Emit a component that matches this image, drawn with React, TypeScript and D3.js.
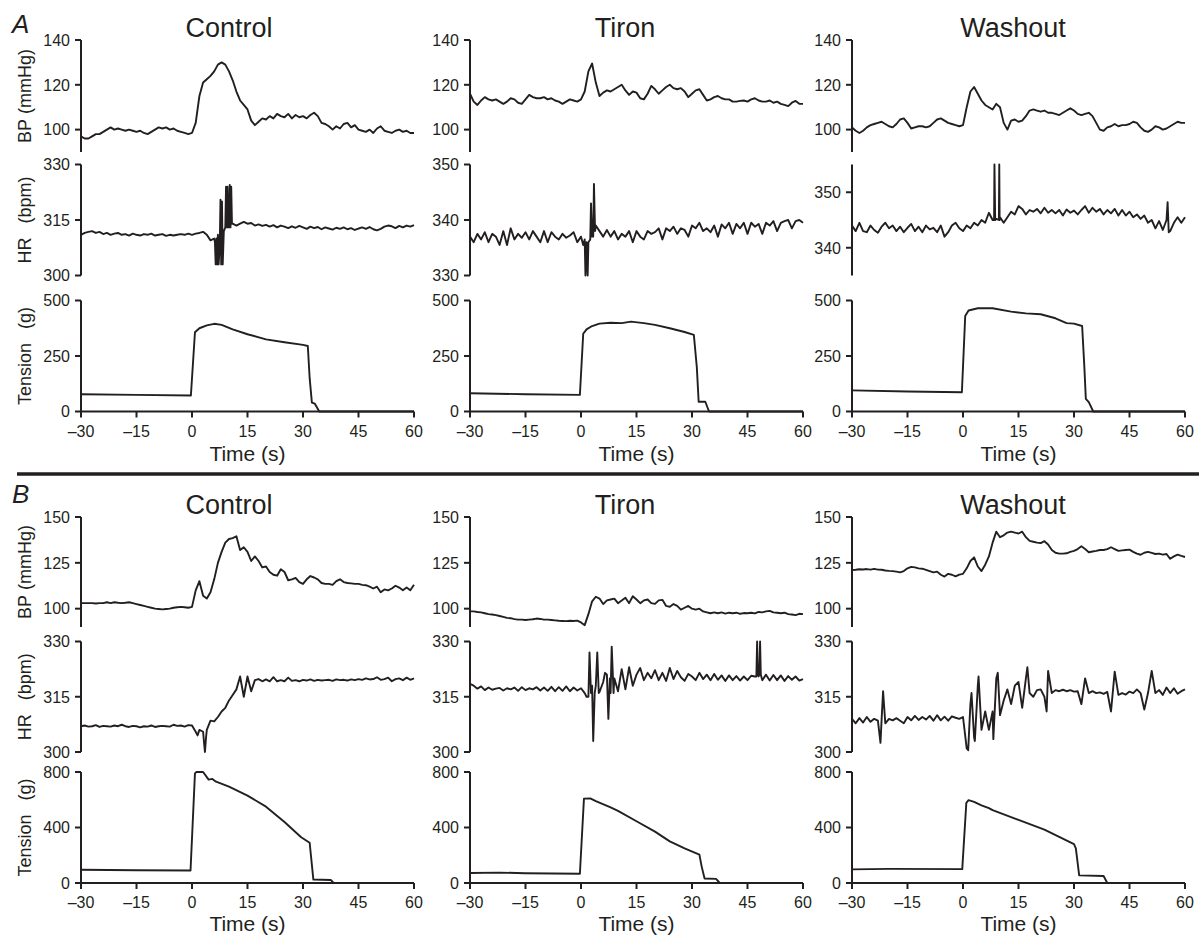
import React from "react";
import * as d3 from "d3";

// ---- shared ticks / labels ----
const CONDITIONS = ["Control", "Tiron", "Washout"];
const TIME_TICKS = [-30, -15, 0, 15, 30, 45, 60];

// ---- A: blood pressure (mmHg), one reading per second from -30 to 60 s ----
const aControlBP = [
  97, 96, 96, 97, 98, 98, 99, 100, 101, 100,
  100.5, 100, 99.5, 100, 99.5, 99, 99.5, 98.5, 98, 99,
  100, 101, 100.5, 101, 100, 100.5, 99.5, 99, 98.5, 98,
  98.5, 103, 115, 121, 122.5, 124, 126, 129, 130, 129,
  126, 122, 117, 113, 111, 109, 104, 102, 103.5, 105,
  104.5, 106, 105, 107, 106, 105.5, 107, 105, 106.5, 105.5,
  106, 105, 106.5, 107.5, 106, 103, 102.5, 101.5, 100, 101.5,
  100.5, 102.5, 103, 101, 102, 100, 99.5, 99, 100, 98.5,
  100.5, 101.5, 99.5, 99, 98.5, 99.5, 100, 99, 99.5, 98.5,
  98.5,
];
const aTironBP = [
  116, 112.5, 111, 113, 114.5, 113.5, 113, 113.5, 112.5, 111.5,
  112.5, 114, 113.5, 112, 111.5, 113.5, 115.5, 114.5, 114, 114,
  114.5, 113.5, 114, 113, 112.5, 111.5, 112.5, 113.5, 113, 112.5,
  113.5, 117, 126, 129.5, 121, 115, 116.5, 117.5, 117, 118,
  119, 120, 117.5, 115.5, 117, 116.5, 114, 113.5, 116, 119.5,
  118, 116, 117.5, 119, 120, 118.5, 118, 118.5, 117, 114.5,
  116, 117.5, 118, 115.5, 113, 113.5, 114.5, 115, 114, 113.5,
  113.5, 112.5, 112.5, 112.8, 113, 112.5, 113.5, 114, 113, 112.5,
  112.5, 113, 112, 112.5, 111.5, 111, 110.5, 112, 112.8, 111.5,
  111.5,
];
const aWashoutBP = [
  101, 99.5, 98.5, 99.5, 101, 102, 102.5, 103, 103.5, 102.5,
  101.5, 101, 102.5, 104.5, 105, 103, 100.5, 101, 101.5, 101.5,
  101, 101.5, 103, 104.5, 105, 104, 103, 102.5, 102, 101.5,
  102, 110, 117, 119, 116, 113, 111, 110, 109, 111.5,
  110, 103, 100, 104, 104.5, 103.5, 104, 106, 108.5, 109,
  108.5, 108, 108.5, 107.5, 107.5, 107, 106.5, 107.5, 108.5, 109.5,
  108.5, 107, 106.5, 107, 107.5, 106, 103, 100, 99.5, 101,
  101.5, 102.5, 101.5, 102, 102, 102.5, 103.5, 103, 101, 99.5,
  99, 100, 101.5, 101, 100, 100.5, 101.5, 102.5, 103.5, 103,
  103,
];

// ---- A: heart rate (bpm), per second, plus extra readings around the spikes ----
const aControlHR = [
  311, 311.5, 311.8, 312, 311.5, 311.8, 311.2, 311.5, 311, 311.3,
  311.5, 311, 311.2, 310.8, 311.3, 311, 310.8, 311.2, 311, 311.3,
  310.8, 311, 311.2, 310.7, 311, 310.8, 311, 311.2, 311, 311.3,
  311, 311.3, 311.5, 311.8, 311, 309.5, 310, 311, 312, 313,
  313, 314, 313.5, 314, 314.5, 314, 314.2, 313.5, 313.8, 313.4,
  313.7, 313.2, 313.6, 313, 313.5, 313.2, 312.8, 313.3, 312.9, 313.4,
  313, 312.6, 313.2, 312.8, 313.1, 312.5, 313, 312.7, 312.4, 312.9,
  312.6, 313, 312.5, 312.8, 312.3, 312.7, 313, 312.6, 313.1, 312.5,
  312.2, 312.6, 313.2, 313.5, 313.3, 312.8, 313.4, 313, 313.5, 313.2,
  313.6,
];
const aControlHRSpikes = [
  [6.2, 309], [6.4, 303], [6.6, 310], [6.8, 303], [7.2, 303], [7.5, 308], [7.7, 320.5],
  [7.9, 303], [8.1, 320], [8.3, 303], [8.6, 312], [9.2, 324], [9.4, 313], [9.6, 324],
  [9.8, 313], [10.2, 324.5], [10.4, 313], [10.6, 324], [10.8, 314],
];
const aTironHR = [
  337, 336, 337.5, 336.5, 337.8, 336, 337.5, 337, 335.5, 338,
  335.5, 338.5, 336.5, 337.5, 336.8, 337.8, 336.5, 338, 337, 336,
  338, 336, 337.8, 337, 336.5, 337.5, 336.8, 337.2, 337.8, 336,
  337, 336.5, 336, 337, 339, 338, 337, 338.2, 337, 338,
  336.5, 337.5, 337, 338, 336, 338, 337, 336.5, 338, 337.5,
  337.8, 338.5, 336.5, 338.5, 338, 338.8, 337.5, 338.5, 338.2, 337,
  339, 338.5, 339.5, 338, 338.5, 337.8, 339, 337, 339.2, 338.5,
  339.5, 337.5, 339.3, 338.5, 339.5, 337.5, 339.5, 338.8, 339.3, 337.5,
  339.5, 339, 339.8, 338, 339.5, 339.8, 340, 338.5, 339.8, 340,
  339.5,
];
const aTironHRSpikes = [
  [0.6, 335.5], [1.2, 330], [1.5, 336], [1.8, 330], [2.5, 336.5], [2.7, 343],
  [3.3, 337], [3.5, 346.5], [3.8, 338],
];
const aWashoutHR = [
  344, 343, 344.5, 343, 342.8, 344, 343.2, 342.7, 343.8, 344.5,
  343.5, 344, 343, 343.8, 342.8, 343.6, 344.3, 343, 343.8, 342.8,
  344, 343.3, 343.6, 342.8, 344, 342, 342.8, 344, 344.5, 343.5,
  343, 344, 343.5, 344.5, 344, 345, 344.5, 346.3, 345, 345.2,
  345.5, 344.5, 345.5, 346.5, 346, 347.5, 347, 346, 346.8, 346.5,
  347, 346.2, 347.2, 346.3, 346.8, 346.2, 346.8, 345.8, 346.9, 346.3,
  346.7, 346, 346.8, 347.5, 346.3, 347.2, 346.5, 347, 346, 346.8,
  346.2, 347, 345.8, 346.8, 345.8, 346.5, 345.5, 346, 345.2, 345.8,
  344.5, 345, 343.5, 344.8, 343.2, 345, 343, 344.5, 345.5, 344.5,
  345.5,
];
const aWashoutHRSpikes = [
  [8.4, 345], [8.5, 355], [8.7, 345], [9.7, 345], [9.8, 355], [9.9, 345],
  [55.3, 348.2], [55.6, 342.8],
];

// ---- A: tension (g), [time, value] ----
const aControlTension = [
  [-30, 78], [-15, 75], [-0.3, 72], [0.8, 357], [2, 375], [4, 388], [6, 395], [8, 390],
  [11, 370], [15, 348], [20, 325], [25, 312], [30, 300], [31.3, 295], [31.8, 150],
  [32.4, 40], [33.2, 35], [34.4, 0], [60, 0],
];
const aTironTension = [
  [-30, 82], [-15, 78], [-0.3, 75], [0.6, 350], [1.5, 370], [3, 385], [5, 396], [8, 400],
  [11, 398], [13.5, 405], [17, 398], [20, 390], [24, 375], [28, 358], [30.5, 345],
  [31.3, 200], [31.8, 44], [33.6, 44], [34.6, 0], [60, 0],
];
const aWashoutTension = [
  [-30, 95], [-15, 90], [-0.3, 87], [0.6, 430], [1.5, 455], [4, 465], [8, 465], [13, 450],
  [17, 442], [21, 438], [25, 420], [28, 398], [30, 396], [32.2, 385], [32.8, 200],
  [33.2, 57], [34, 42], [35.2, 0], [60, 0],
];

// ---- B: blood pressure (mmHg) ----
const bControlBP = [
  103, 103, 103, 103, 102.8, 103, 103, 103.5, 103, 103.5,
  103.2, 103, 103.2, 103.5, 103, 102.5, 102, 101.5, 101, 100.5,
  100, 99.8, 99.6, 99.8, 100, 100.5, 100.8, 101, 100.8, 100.5,
  101, 110, 115, 107, 105.5, 109, 116, 125, 131, 136,
  138, 138.5, 139.5, 132, 133.5, 131, 126, 128.5, 126, 122.5,
  123, 120, 118.5, 118, 121.5, 120, 115.5, 116, 116.8, 114.5,
  113.5, 116, 117.8, 117, 116, 114, 113.5, 113.5, 113, 115,
  116, 114.5, 114, 113.8, 113.5, 113.5, 113, 112.8, 112, 111,
  112, 109, 110.5, 110, 111, 112.5, 111.5, 110, 111.5, 110,
  113,
];
const bTironBP = [
  98.5, 98.5, 98.2, 98, 97.5, 97, 96.8, 96.5, 96, 95.5,
  95, 94.8, 94.3, 94, 94, 93.8, 94, 94.2, 94.6, 94.4,
  94, 94, 93.8, 93.6, 93.4, 93.3, 93.2, 93.4, 93.3, 93.5,
  92.5, 91, 97, 104, 106.5, 105.5, 102.5, 104.5, 105, 105.5,
  103, 104.5, 106, 103, 106.8, 105, 103, 104.5, 105, 103,
  102.6, 104.5, 104.8, 101.5, 101, 102.5, 101.5, 99.5, 100.5, 101.5,
  100, 99.5, 100, 98.5, 98, 97.5, 98, 97.5, 98, 97.3,
  97.8, 97.5, 97.8, 97.2, 97.6, 97.5, 97.8, 97.4, 98.2, 98,
  98.5, 98.8, 98, 97.8, 97.5, 97.8, 97, 96.8, 96.5, 97.2,
  97,
];
const bWashoutBP = [
  121, 121.2, 121.5, 121.4, 121.6, 121.3, 121.7, 121.3, 121.2, 120.8,
  120.6, 120.5, 120.2, 119.8, 120.5, 122, 122.8, 122.5, 122, 121.8,
  121.2, 120.5, 119.8, 120.2, 118.5, 117.5, 119, 118.5, 117.6, 118.6,
  119, 122, 126, 128, 123, 120.5, 124, 128.5, 136, 142,
  139, 140, 141.5, 142, 141.5, 141, 142, 139, 137, 136.5,
  136, 135.8, 136.8, 135, 132, 130.5, 130, 130, 130.2, 131,
  131.5, 132.5, 134, 132.5, 130.8, 131.2, 131.5, 132, 132, 132.5,
  133.5, 132.5, 131.5, 131.8, 132, 132.2, 131, 130, 129.4, 130.5,
  131, 130.4, 129.8, 130, 129.5, 129.8, 127.2, 128.5, 129.5, 128.8,
  128.2,
];

// ---- B: heart rate (bpm) ----
const bControlHR = [
  307, 307.2, 306.9, 307, 307.3, 306.8, 307.1, 307, 306.9, 307.2,
  307, 307.4, 307, 306.8, 307.1, 307, 306.7, 307, 306.9, 307.2,
  306.8, 307, 307.1, 307, 306.9, 307.4, 307.1, 307.2, 306.9, 307.3,
  307.2, 305.5, 306, 305.5, 306, 308.5, 308.3, 309.5, 311, 312,
  314, 315.5, 317, 320.5, 315, 320.5, 316.5, 319.5, 319.8, 319.2,
  319.7, 319.2, 320.3, 319.2, 319.5, 319.2, 320.2, 319.3, 319.5, 319.2,
  319.6, 319.4, 319.7, 319.3, 319.6, 319.4, 319.5, 319.6, 319.3, 319.7,
  319.5, 319.6, 319.4, 319.7, 319.5, 319.8, 319.6, 320, 319.7, 319.8,
  320.3, 319.6, 319.8, 320.2, 319.2, 319.8, 320, 319.5, 320.2, 319.6,
  320,
];
const bControlHRSpikes = [[1.5, 304.5], [3.3, 302], [3.5, 300], [3.8, 304]];
const bTironHR = [
  318.5, 318, 317.2, 317.8, 316.8, 317.5, 316.9, 317.2, 317.4, 316.7,
  317.3, 317, 317.5, 316.6, 317.6, 316.8, 317.3, 317, 317.6, 316.7,
  317.5, 316.6, 317.7, 316.5, 317.6, 316.6, 317.8, 316.5, 317.5, 316.7,
  317.3, 316, 315, 318, 318, 316.3, 319, 321, 316, 320,
  316.5, 322.5, 317, 323, 318, 321, 322.8, 319.5, 321.5, 320,
  322.2, 319.5, 321.5, 319.3, 322.8, 319.8, 322, 320.3, 319.3, 321.2,
  320.5, 319.5, 321.5, 319.8, 321, 319.5, 321.2, 319.6, 320.8, 319.3,
  320.8, 319.5, 320.6, 319.4, 320.5, 319.5, 320.7, 320.5, 320.5, 319.5,
  321, 319.4, 320.9, 319.5, 320.8, 319.3, 320.6, 319.6, 320.5, 319.4,
  319.8,
];
const bTironHRSpikes = [
  [1.5, 315], [2.3, 327], [2.7, 316], [3.3, 303], [3.7, 316], [4.4, 327], [4.8, 316],
  [6.5, 321.5], [7.4, 309], [7.8, 320], [8.3, 328.6], [8.8, 316],
  [47.4, 320.5], [47.6, 330], [47.8, 321], [48.2, 321], [48.4, 330], [48.6, 321],
];
const bWashoutHR = [
  309, 307.8, 309.2, 308, 309.5, 308.2, 309, 308.5, 308.8, 307.8,
  309, 308.6, 309.2, 308.5, 307.8, 309.5, 308.6, 309.8, 308.7, 309.5,
  308.8, 309.8, 308.5, 310, 308.6, 309.6, 308.5, 309.7, 309.3, 309,
  309.5, 301, 313, 304, 318, 306, 311, 306, 311, 320,
  310, 314, 317, 313, 318, 319, 312, 320, 316, 315,
  316.8, 317, 315, 322, 316, 316.8, 316.5, 316.9, 316.5, 316.8,
  316.4, 316.5, 313, 320, 316, 316.5, 316, 316.2, 315.8, 316.3,
  311, 321.8, 315.5, 316, 315.6, 316.4, 316, 317, 316, 311.5,
  316, 322, 316, 316.8, 315.5, 317.5, 316, 317.3, 315.8, 316.5,
  317,
];
const bWashoutHRSpikes = [
  [-22.3, 302.5], [-21.6, 316.5], [1.4, 300.5], [2.3, 316], [3.2, 303], [4.2, 320.5],
  [8.2, 303.5], [9.4, 321.5], [17.4, 323], [22.6, 311],
];

// ---- B: tension (g) ----
const bControlTension = [
  [-30, 95], [-15, 92], [-0.4, 90], [0.8, 790], [1.2, 800], [3, 800], [4.5, 745], [5.5, 750],
  [6.5, 730], [10, 695], [15, 630], [20, 550], [25, 440], [29.5, 330], [31.8, 290],
  [32.8, 25], [37.5, 22], [38.3, 0], [60, 0],
];
const bTironTension = [
  [-30, 72], [-22, 75], [-15, 70], [-0.3, 67], [0.8, 608], [2.5, 610], [4, 590], [8, 545],
  [10, 520], [15, 445], [20, 370], [24, 300], [28, 250], [32, 205], [32.6, 120],
  [33.4, 32], [36.5, 30], [37.5, 0], [60, 0],
];
const bWashoutTension = [
  [-30, 98], [-20, 102], [-0.2, 100], [0.9, 578], [1.5, 597], [3, 585], [5, 560], [7, 540],
  [8, 525], [15, 455], [22, 385], [30, 280], [30.5, 250], [31.4, 55], [38, 50], [39, 0],
  [60, 0],
];

// per-second series -> [t, v] pairs, merged with the extra readings
const perSecond = (vals: number[], extra: number[][] = []) =>
  vals.map((v, i) => [i - 30, v]).concat(extra).sort((a, b) => a[0] - b[0]);

const INK = "#231f20";
const FONT = "'Liberation Sans', Arial, Helvetica, sans-serif";
const COL_X = [81, 470, 852];
const COL_W = 333;
const TITLE_DX = [148, 155, 161];

const figures = [
  {
    letter: "A",
    letterY: 33,
    titleY: 37,
    tickY: 437,
    timeY: 461,
    rows: { bp: [152, 40], hr: [275.5, 164.5], ten: [411.5, 300.5] },
    cols: [
      {
        bp: { data: perSecond(aControlBP), domain: [90, 140], ticks: [100, 120, 140] },
        hr: { data: perSecond(aControlHR, aControlHRSpikes), domain: [300, 330], ticks: [300, 315, 330] },
        ten: { data: aControlTension, domain: [0, 500], ticks: [0, 250, 500] },
      },
      {
        bp: { data: perSecond(aTironBP), domain: [90, 140], ticks: [100, 120, 140] },
        hr: { data: perSecond(aTironHR, aTironHRSpikes), domain: [330, 350], ticks: [330, 340, 350] },
        ten: { data: aTironTension, domain: [0, 500], ticks: [0, 250, 500] },
      },
      {
        bp: { data: perSecond(aWashoutBP), domain: [90, 140], ticks: [100, 120, 140] },
        hr: { data: perSecond(aWashoutHR, aWashoutHRSpikes), domain: [335, 355], ticks: [340, 350] },
        ten: { data: aWashoutTension, domain: [0, 500], ticks: [0, 250, 500] },
      },
    ],
  },
  {
    letter: "B",
    letterY: 503,
    titleY: 514,
    tickY: 908,
    timeY: 931,
    rows: { bp: [627, 517], hr: [752, 641.5], ten: [883, 772] },
    cols: [
      {
        bp: { data: perSecond(bControlBP), domain: [90, 150], ticks: [100, 125, 150] },
        hr: { data: perSecond(bControlHR, bControlHRSpikes), domain: [300, 330], ticks: [300, 315, 330] },
        ten: { data: bControlTension, domain: [0, 800], ticks: [0, 400, 800] },
      },
      {
        bp: { data: perSecond(bTironBP), domain: [90, 150], ticks: [100, 125, 150] },
        hr: { data: perSecond(bTironHR, bTironHRSpikes), domain: [300, 330], ticks: [300, 315, 330] },
        ten: { data: bTironTension, domain: [0, 800], ticks: [0, 400, 800] },
      },
      {
        bp: { data: perSecond(bWashoutBP), domain: [90, 150], ticks: [100, 125, 150] },
        hr: { data: perSecond(bWashoutHR, bWashoutHRSpikes), domain: [300, 330], ticks: [300, 315, 330] },
        ten: { data: bWashoutTension, domain: [0, 800], ticks: [0, 400, 800] },
      },
    ],
  },
];

function Trace({ x, range, spec }) {
  const y = d3.scaleLinear().domain(spec.domain).range(range);
  const line = d3.line().x((d) => x(d[0])).y((d) => y(d[1]));
  const x0 = x.range()[0];
  return (
    <g>
      <line x1={x0} x2={x0} y1={y(spec.domain[0])} y2={y(spec.domain[1])} stroke={INK} strokeWidth={2} />
      {spec.ticks.map((t) => (
        <g key={t}>
          <line x1={x0 - 6} x2={x0} y1={y(t)} y2={y(t)} stroke={INK} strokeWidth={2} />
          <text x={x0 - 11} y={y(t)} dy="0.36em" textAnchor="end" fontSize={16}>{t}</text>
        </g>
      ))}
      <path d={line(spec.data)} fill="none" stroke={INK} strokeWidth={1.9} strokeLinejoin="round" />
    </g>
  );
}

function YLabel({ range, children, gap }) {
  const cy = (range[0] + range[1]) / 2;
  return (
    <text transform={`translate(31,${cy}) rotate(-90)`} textAnchor="middle" fontSize={18}>
      {children[0]}
      <tspan dx={gap}>{children[1]}</tspan>
    </text>
  );
}

export default function App() {
  return (
    <svg width={1199} height={938} style={{ position: "absolute", left: 0, top: 0, background: "#fff" }}
      fontFamily={FONT} fill={INK}>
      {figures.map((fig) => (
        <g key={fig.letter}>
          <text x={12} y={fig.letterY} fontSize={26} fontStyle="italic">{fig.letter}</text>
          <YLabel range={fig.rows.bp} gap={5}>{["BP", "(mmHg)"]}</YLabel>
          <YLabel range={fig.rows.hr} gap={14}>{["HR", "(bpm)"]}</YLabel>
          <YLabel range={fig.rows.ten} gap={14}>{["Tension", "(g)"]}</YLabel>
          {fig.cols.map((c, i) => {
            const x = d3.scaleLinear().domain([-30, 60]).range([COL_X[i], COL_X[i] + COL_W]);
            const y0 = fig.rows.ten[0];
            return (
              <g key={i}>
                <text x={COL_X[i] + TITLE_DX[i]} y={fig.titleY} textAnchor="middle" fontSize={27}>
                  {CONDITIONS[i]}
                </text>
                <Trace x={x} range={fig.rows.bp} spec={c.bp} />
                <Trace x={x} range={fig.rows.hr} spec={c.hr} />
                <Trace x={x} range={fig.rows.ten} spec={c.ten} />
                <line x1={x(-30)} x2={x(60)} y1={y0} y2={y0} stroke={INK} strokeWidth={2} />
                {TIME_TICKS.map((t) => (
                  <g key={t}>
                    <line x1={x(t)} x2={x(t)} y1={y0} y2={y0 + 6} stroke={INK} strokeWidth={2} />
                    <text x={x(t)} y={fig.tickY} textAnchor="middle" fontSize={16}>
                      {t < 0 ? `\u2013${-t}` : t}
                    </text>
                  </g>
                ))}
                <text x={x(15)} y={fig.timeY} textAnchor="middle" fontSize={21}>Time (s)</text>
              </g>
            );
          })}
        </g>
      ))}
      <line x1={17} x2={1199} y1={474} y2={474} stroke={INK} strokeWidth={3.5} />
    </svg>
  );
}
